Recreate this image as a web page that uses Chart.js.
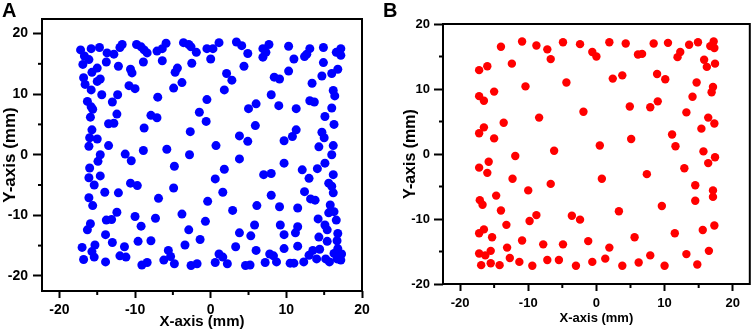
<!DOCTYPE html>
<html>
<head>
<meta charset="utf-8">
<title>Scatter A / B</title>
<script src="https://cdn.jsdelivr.net/npm/chart.js@4.4.1/dist/chart.umd.min.js"></script>
<style>
  html, body { margin: 0; padding: 0; background: #fff; }
  #wrap { position: relative; width: 754px; height: 333px; overflow: hidden;
          font-family: "Liberation Sans", Arial, sans-serif; }
  #wrap canvas { position: absolute; top: 0; }
  #chart-a { left: 0; }
  #chart-b { left: 377px; }
  .panel-tag { position: absolute; top: 0; font-size: 20px; line-height: 20px; font-weight: bold; color: #000; }
</style>
</head>
<body>
<div id="wrap">
  <canvas id="chart-a" width="377" height="333" style="width:377px;height:333px"></canvas>
  <canvas id="chart-b" width="377" height="333" style="width:377px;height:333px"></canvas>
  <div class="panel-tag" style="left:2px">A</div>
  <div class="panel-tag" style="left:383px">B</div>
</div>

<script>
// scatter A / B – point positions in mm
// ------------------------------------

const majorTicks = [-20, -10, 0, 10, 20];
const minorTicks = [-15, -5, 5, 15];

// panel A (blue)
const aX = [
  -17.2, -16.7, -15.8, -14.7, -13.7, -12.8, -12.0, -11.7, -9.8, -9.2, -8.8, -8.4, -7.1, -6.4, -5.9, -3.6, -2.9, -2.6, -1.9, -0.5, 0.3, 1.1, 3.4, 4.1, 4.9, 6.9, 7.7, 10.3, 13.1, 14.9, 16.6, 17.2, 17.2,
  -16.9, -16.1, -15.7, -15.0, -14.6, -15.0, -13.8, -12.2, -10.6, -10.4, -8.9, -6.4, -4.7, -4.4, -3.8, -4.9, -2.5, 0.0, 2.1, 2.8, 1.8, 4.4, 6.9, 7.3, 10.3, 11.0, 12.4, 12.7, 14.9, 14.7, 16.0, 16.8, 8.4, 9.1, 13.4,
  -16.8, -16.6, -15.8, -14.4, -16.3, -15.8, -15.6, -13.0, -12.3, -10.8, -10.0, -7.0, -0.5, -1.5, -0.6, 8.0, 9.0, 11.3, 5.0, 6.0, 13.1, 13.7, 16.0, 16.2, 16.4, 16.3, 15.1,
  -15.9, -15.7, -16.0, -16.1, -15.0, -13.5, -12.8, -12.4, -13.5, -8.8, -7.9, -7.1, -8.9, -11.3, -10.5, -14.6, -14.9, -5.8, -2.7, -2.8, 0.7, 3.8, 4.9, 5.9, 11.3, 10.8, 9.7, 14.7, 15.0, 14.3, 16.2, 16.0,
  -16.0, -16.1, -14.6, -15.4, -14.0, -15.6, -16.1, -12.2, -10.6, -9.7, -4.8, -4.9, -6.9, -0.4, 0.6, 1.8, 1.6, 3.8, 7.0, 8.0, 9.7, 8.0, 6.1, 9.1, 12.1, 13.0, 14.1, 12.4, 13.2, 13.8, 15.1, 15.6, 16.0, 16.2, 16.2, 15.8, 11.5, 15.6, 16.3, 2.9,
  -16.3, -15.9, -13.8, -13.1, -12.4, -10.0, -9.2, -7.3, -3.8, -0.7, -2.9, 5.8, 9.2, 9.7, 11.5, 11.2, 14.2, 15.1, 15.4, 16.6, 16.8, 16.7, 3.8, 5.3, -1.4, -3.4, -13.9, -15.3, -13.0, -11.4, -9.6, -7.9, 3.3, 11.5, 14.3, 15.4,
  -17.0, -16.8, -15.7, -15.4, -13.9, -12.0, -11.2, -9.1, -8.4, -6.2, -5.6, -5.3, -4.8, -2.6, -1.8, 0.6, 1.1, 1.6, 2.2, 4.6, 5.2, 6.0, 7.2, 7.8, 8.3, 8.7, 9.7, 10.5, 11.0, 12.3, 13.0, 14.0, 14.4, 15.2, 15.7, 16.3, 16.7, 17.2, 16.8, 13.5, 17.3
];
const aY = [
  17.3, 16.3, 17.5, 17.7, 16.8, 16.6, 17.7, 18.2, 18.2, 17.8, 17.3, 16.8, 17.1, 17.5, 18.4, 18.5, 18.2, 17.8, 16.9, 17.5, 17.5, 18.5, 18.6, 18.0, 16.7, 17.5, 18.2, 17.9, 17.5, 17.7, 16.9, 17.5, 16.4,
  14.9, 15.7, 13.6, 14.3, 12.5, 12.1, 15.3, 14.6, 14.1, 13.5, 15.3, 15.5, 13.6, 14.3, 11.9, 11.0, 15.1, 15.8, 13.4, 12.3, 10.7, 14.6, 16.1, 16.9, 13.8, 15.8, 16.2, 16.6, 15.2, 13.0, 13.4, 14.1, 12.8, 12.5, 11.8,
  12.7, 11.6, 10.7, 9.9, 8.8, 7.9, 7.5, 8.7, 9.9, 11.4, 10.9, 9.5, 9.1, 7.0, 5.5, 9.9, 8.1, 7.6, 7.6, 8.4, 8.9, 8.7, 7.7, 10.6, 9.7, 5.0, 6.3,
  6.2, 4.1, 2.8, 1.4, 2.6, 5.1, 5.2, 6.7, 1.5, 4.4, 6.5, 6.1, 0.7, 0.1, -1.0, 0.0, -1.1, 0.9, 3.8, 0.0, 1.5, 3.1, 2.2, 4.8, 4.1, 3.0, 2.3, 3.7, 2.8, 1.3, 1.5, 0.0,
  -2.2, -3.8, -3.5, -5.0, -6.2, -8.4, -7.1, -6.3, -4.7, -5.1, -1.9, -5.5, -7.2, -7.7, -4.0, -2.4, -6.2, -0.7, -3.3, -3.1, -1.4, -6.7, -8.4, -8.6, -2.5, -3.9, -2.3, -6.1, -7.3, -7.5, -1.4, -4.7, -5.2, -6.3, -3.3, -8.3, -8.8, -9.6, -9.4, -9.2,
  -12.4, -11.4, -10.8, -10.7, -9.5, -10.2, -11.8, -10.5, -9.8, -11.0, -12.4, -11.6, -11.6, -13.2, -11.9, -12.9, -10.6, -11.6, -12.4, -10.8, -13.0, -14.2, -12.9, -13.4, -14.0, -14.9, -13.2, -14.9, -14.5, -15.2, -14.3, -14.2, -15.2, -15.1, -13.6, -14.3,
  -15.3, -17.3, -16.0, -16.9, -17.7, -16.7, -16.9, -18.2, -17.8, -17.4, -15.8, -16.8, -18.0, -18.3, -18.0, -17.8, -16.4, -16.9, -18.0, -18.3, -18.2, -15.8, -17.8, -16.4, -16.7, -17.7, -15.5, -17.9, -17.9, -17.7, -16.6, -17.2, -15.6, -17.2, -17.7, -16.3, -17.2, -17.4, -15.5, -15.8, -16.4
];

// panel B (red)
const bX = [
  -17.2, -16.0, -14.0, -12.4, -10.9, -8.8, -7.2, -6.7, -4.9, -4.4, -2.4, -0.6, 0.0, 1.9, 2.4, 3.8, 4.3, 6.1, 6.7, 8.4, 8.9, 10.1, 10.5, 11.9, 12.3, 13.6, 14.9, 15.8, 16.2, 16.7, 17.2, 17.3, 17.4,
  14.7, 17.1, 16.9, 14.1, 9.0, 7.9, 4.9, -1.9, -8.4, -10.4, -15.0, -17.2, -16.5, -13.6, -16.5, -17.2, -15.0,
  13.2, 16.4, 17.3, 15.4, 11.1, 11.6, 5.1, 0.5, -6.2, -11.9, -15.8, -17.2, -16.0, -12.3, -10.0, -6.7, 0.8, 7.4, 12.9, 15.7, 16.4, 17.4,
  14.5, 17.1, 17.1, 14.5, 9.6, 3.3, -3.6, -2.4, -8.8, -9.8, -14.0, -14.7, -17.1, -16.7,
  -17.2, -16.5, -15.3, -13.2, -10.9, -7.8, -4.9, -1.2, 1.9, 5.6, 11.5, 15.6, 17.3, 13.2, 16.5, 7.9,
  1.3, -0.6, -3.0, -5.5, -7.2, -9.4, -11.3, -12.7, -13.1, -14.2, -15.5, -15.5, -16.3, -17.2, -16.9, 3.8, 6.2, 10.0, 14.8
];
const bY = [
  12.9, 13.5, 16.5, 13.9, 17.3, 16.7, 16.1, 14.6, 17.2, 11.0, 16.9, 15.7, 15.0, 17.2, 11.6, 12.1, 17.0, 15.3, 15.4, 17.0, 12.3, 11.5, 17.1, 14.9, 15.7, 16.8, 17.2, 14.5, 13.4, 16.6, 17.3, 16.3, 13.9,
  11.0, 10.3, 9.5, 8.8, 8.1, 7.2, 7.3, 6.5, 5.6, 10.4, 9.6, 8.9, 8.2, 4.8, 4.1, 3.2, 2.4,
  6.4, 5.6, 4.7, 3.9, 3.0, 1.2, 2.3, 1.3, 0.5, -0.3, -1.2, -2.1, -2.9, -3.8, -5.6, -4.6, -3.8, -3.1, -2.2, 0.4, -1.4, -0.5,
  -4.8, -5.6, -6.6, -7.2, -8.0, -8.8, -9.5, -10.1, -9.4, -10.3, -8.7, -6.4, -7.1, -7.8,
  -12.2, -11.6, -12.8, -10.9, -13.3, -13.9, -13.9, -13.4, -14.4, -12.8, -12.2, -11.7, -11.0, -15.4, -14.9, -15.6,
  -16.1, -16.6, -17.2, -16.3, -16.3, -17.2, -16.6, -16.0, -14.4, -17.1, -16.8, -14.9, -15.6, -15.3, -17.1, -17.2, -16.7, -17.2, -17.0
];

const FONT = '"Liberation Sans", Arial, sans-serif';

// frame round the plot + short minor ticks
const frameTicks = {
  id: 'frameTicks',
  afterDraw(chart, args, opts) {
    const { ctx, chartArea: a, scales } = chart;
    ctx.save();
    ctx.strokeStyle = '#000';
    ctx.lineWidth = 2;
    ctx.strokeRect(a.left, a.top, a.right - a.left, a.bottom - a.top);
    minorTicks.forEach(v => {
      const px = scales.x.getPixelForValue(v);
      ctx.beginPath(); ctx.moveTo(px, a.bottom); ctx.lineTo(px, a.bottom + opts.minorLen); ctx.stroke();
      const py = scales.y.getPixelForValue(v);
      ctx.beginPath(); ctx.moveTo(a.left, py); ctx.lineTo(a.left - opts.minorLen, py); ctx.stroke();
    });
    ctx.restore();
  }
};

function axisOpts(min, max, text, t) {
  return {
    type: 'linear',
    min: min,
    max: max,
    afterBuildTicks: s => { s.ticks = majorTicks.map(v => ({ value: v })); },
    afterFit: s => { if (s.isHorizontal()) s.height = t.size; else s.width = t.size; },
    grid: { display: true, drawOnChartArea: false, drawTicks: true, tickLength: t.tickLen, tickWidth: 2, tickColor: '#000' },
    border: { display: false },
    ticks: { color: '#000', padding: t.pad, autoSkip: false, maxRotation: 0,
             font: { family: FONT, size: t.tickFont, weight: 'bold' } },
    title: { display: true, text: text, color: '#000', padding: t.titlePad,
             font: { family: FONT, size: t.titleFont, weight: 'bold' } }
  };
}

function initScatter(id, xs, ys, color, radius, cfg) {
  const canvas = document.getElementById(id);
  const points = xs.map((x, i) => ({ x: x, y: ys[i] }));
  return new Chart(canvas.getContext('2d'), {
    type: 'scatter',
    data: {
      datasets: [{
        data: points,
        backgroundColor: color,
        borderWidth: 0,
        pointRadius: radius,
        pointHoverRadius: radius
      }]
    },
    options: {
      responsive: false,
      animation: false,
      layout: { padding: cfg.padding },
      plugins: { legend: { display: false }, tooltip: { enabled: false }, frameTicks: { minorLen: 4 } },
      scales: {
        x: axisOpts(cfg.xMin, cfg.xMax, 'X-axis (mm)', cfg.xAxis),
        y: axisOpts(cfg.yMin, cfg.yMax, 'Y-axis (mm)', cfg.yAxis)
      }
    },
    plugins: [frameTicks]
  });
}

initScatter('chart-a', aX, aY, '#0000FF', 4.5, {
  padding: { top: 19, right: 15, left: 0, bottom: 0 },
  xMin: -22.3, xMax: 20, yMin: -22.5, yMax: 22.4,
  xAxis: { size: 42, tickLen: 7, pad: 4, tickFont: 14, titleFont: 15, titlePad: { top: 0, bottom: 2 } },
  yAxis: { size: 42, tickLen: 9, pad: 5, tickFont: 14, titleFont: 17, titlePad: { top: 0, bottom: 0 } }
});

initScatter('chart-b', bX, bY, '#FF0000', 4.2, {
  padding: { top: 24, right: 1, left: 0, bottom: 0 },
  xMin: -22.5, xMax: 22.5, yMin: -20, yMax: 20,
  xAxis: { size: 49, tickLen: 7, pad: 5, tickFont: 13, titleFont: 13, titlePad: { top: 0, bottom: 7 } },
  yAxis: { size: 66, tickLen: 9, pad: 4, tickFont: 13, titleFont: 16, titlePad: { top: 24, bottom: 0 } }
});
</script>
</body>
</html>
